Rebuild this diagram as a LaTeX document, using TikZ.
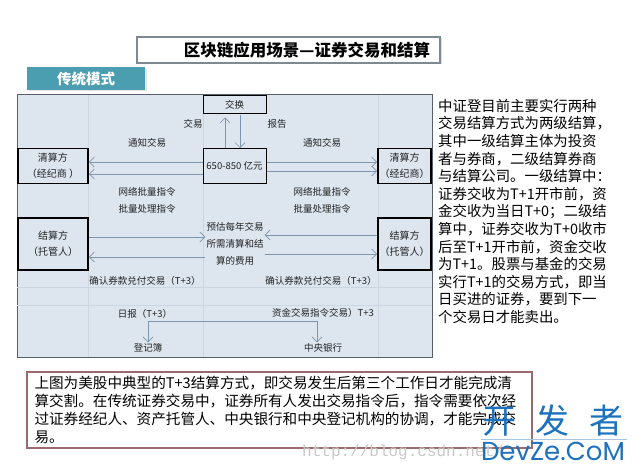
\documentclass[tikz,border=0pt]{standalone}
\usepackage{fontspec}
\setmainfont{Noto Sans CJK SC}
\newfontfamily\urlfont{Liberation Mono}
\newfontfamily\wmfont{Poppins}
\usepackage{tikz}
\usetikzlibrary{arrows.meta,shadows}
\definecolor{panelbg}{HTML}{DDE5EE}
\definecolor{panelline}{HTML}{55606B}
\definecolor{gridc}{HTML}{CCD6E1}
\definecolor{flowc}{HTML}{7E95AF}
\definecolor{tealbg}{HTML}{4A9EB0}
\definecolor{titleline}{HTML}{7E8A92}
\definecolor{noteline}{HTML}{9A6A6E}
\definecolor{labc}{HTML}{222222}
\definecolor{wmblue}{HTML}{1E72BD}
\definecolor{urlgray}{HTML}{C9C9C9}
\tikzset{
  panel/.style={fill=panelbg, draw=panelline, line width=1pt},
  gridl/.style={draw=gridc, line width=0.6pt},
  titlebox/.style={draw=titleline, line width=1.5pt, fill=white, minimum width=303pt, minimum height=26pt, inner sep=0pt,
    font=\fontsize{16.5}{18}\selectfont\bfseries, drop shadow={opacity=0.25, shadow xshift=1.5pt, shadow yshift=-1.5pt}},
  tagbox/.style={fill=tealbg, text=white, minimum width=118pt, minimum height=23pt, inner sep=0pt,
    font=\fontsize{14.5}{16}\selectfont\bfseries, drop shadow={opacity=0.2, shadow xshift=1.5pt, shadow yshift=-1.5pt}},
  hubbox/.style={draw=black, line width=1pt, fill=panelbg, minimum width=63pt, inner sep=0pt, text=labc,
    font=\fontsize{9.5}{12}\selectfont},
  partybox/.style={draw=black, line width=1.6pt, fill=panelbg, inner sep=0pt, align=center, text=labc,
    font=\fontsize{10}{16}\selectfont},
  flow/.style={draw=flowc, line width=0.8pt, -{Straight Barb[length=5pt,width=10pt,line width=0.7pt]}},
  lab/.style={text=labc, font=\fontsize{9.5}{17}\selectfont, inner sep=1pt, align=center},
  para/.style={text=black, inner sep=0pt, align=left},
  notebox/.style={draw=noteline, line width=1.6pt, fill=white, minimum width=505pt, minimum height=76pt,
    text width=490pt, inner xsep=7.5pt, inner ysep=0pt, align=left, font=\fontsize{14.6}{18}\selectfont},
}

\begin{document}
\begin{tikzpicture}[x=1pt,y=-1pt]
  \useasboundingbox (0,0) rectangle (637,473);
  \fill[white] (0,0) rectangle (637,473);

  % heading
  \node[titlebox] (title) at (288.5,50) {\hspace{37pt}区块链应用场景—证券交易和结算};
  \node[tagbox] (tag) at (86,78.5) {传统模式};

  % panel and its faint grid
  \draw[panel] (17,95) rectangle (432,357);
  \draw[gridl] (17,287) -- (432,287);
  \draw[gridl] (17,305) -- (432,305);
  \draw[gridl] (88,95) -- (88,357);
  \draw[gridl] (203,95) -- (203,357);
  \draw[gridl] (378,95) -- (378,357);

  % parties
  \node[hubbox, minimum height=18pt] (swap) at (234.5,105) {交换};
  \node[hubbox, minimum height=35pt] (hub) at (234.5,166) {650-850 亿元};
  \node[partybox, minimum width=70pt, minimum height=35pt] (clrL) at (53,166) {清算方\\（经纪商 ）};
  \node[partybox, minimum width=53pt, minimum height=35pt] (clrR) at (404.5,166) {清算方\\（经纪商）};
  \node[partybox, minimum width=70pt, minimum height=52pt] (cusL) at (53,244) {结算方\\（托管人）};
  \node[partybox, minimum width=53pt, minimum height=52pt] (cusR) at (404.5,244) {结算方\\（托管人）};
  \node[lab] (fee) at (235,244) {预估每年交易\\所需清算和结\\算的费用};
  \node[lab] (ledger) at (148,348) {登记簿};
  \node[lab] (cbank) at (323,348) {中央银行};

  % exchange <-> hub
  \draw[flow] ([xshift=-9.5pt]hub.north) -- ([xshift=-9.5pt,yshift=-3pt]swap.south);
  \draw[flow] ([xshift=5.5pt,yshift=-1pt]swap.south) -- ([xshift=5.5pt]hub.north);
  \node[lab] (lTrade) at (193,124) {交易};
  \node[lab] (lReport) at (277,124) {报告};

  % hub <-> brokers
  \draw[flow] ([yshift=4pt]hub.west) -- ([yshift=4pt]clrL.east);
  \draw[flow] ([yshift=-8pt]hub.west) -- ([yshift=-8pt]clrL.east);
  \draw[flow] ([yshift=4pt]hub.east) -- ([yshift=4pt]clrR.west);
  \draw[flow] ([yshift=-5pt]hub.east) -- ([yshift=-5pt]clrR.west);
  \node[lab] (lNotifyL) at (147,143) {通知交易};
  \node[lab] (lNotifyR) at (322,143) {通知交易};
  \node[lab] (lBatchL) at (147,200) {网络批量指令\\批量处理指令};
  \node[lab] (lBatchR) at (322,200) {网络批量指令\\批量处理指令};

  % custodians <-> fee
  \draw[flow] ([yshift=7pt]cusL.east) -- ([yshift=7pt]fee.west);
  \draw[flow] ([yshift=-13pt]fee.west) -- ([yshift=-13pt]cusL.east);
  \draw[flow] ([yshift=9pt]cusR.west) -- ([yshift=9pt]fee.east);
  \draw[flow] ([yshift=-10pt]fee.east) -- ([yshift=-10pt]cusR.west);
  \node[lab] (lConfL) at (145,281) {确认券款兑付交易（T+3）};
  \node[lab] (lConfR) at (321,281) {确认券款兑付交易（T+3）};

  % daily report and cash orders
  \node[lab] (lDaily) at (145,314) {日报（T+3）};
  \node[lab] (lCash) at (323,313) {资金交易指令交易）T+3};
  \coordinate (fork) at (148,321);
  \coordinate (forkR) at (317,321);
  \draw[flow,-] (fork) -- (forkR);
  \draw[flow] (fork) -- (ledger.north);
  \draw[flow] (forkR) -- (forkR |- cbank.north);

  % side text
  \node[para, anchor=north west, font=\fontsize{14.4}{17.6}\selectfont] (side) at (438,99)
    {中证登目前主要实行两种\\交易结算方式为两级结算，\\其中一级结算主体为投资\\者与券商，二级结算券商\\与结算公司。一级结算中：\\证券交收为T+1开市前，资\\金交收为当日T+0；二级结\\算中，证券交收为T+0收市\\后至T+1开市前，资金交收\\为T+1。股票与基金的交易\\实行T+1的交易方式，即当\\日买进的证券，要到下一\\个交易日才能卖出。};

  % note below
  \node[notebox] (note) at (279.5,410)
    {上图为美股中典型的T+3结算方式，即交易发生后第三个工作日才能完成清\\算交割。在传统证券交易中，证券所有人发出交易指令后，指令需要依次经\\过证券经纪人、资产托管人、中央银行和中央登记机构的协调，才能完成交\\易。};

  % watermarks
  \node[text=urlgray, font=\urlfont\fontsize{16}{16}\selectfont, anchor=west, inner sep=0pt] (url) at (302,452) {http://blog.csdn.net/};
  \node[text=wmblue, font=\fontsize{34}{34}\selectfont, inner sep=0pt] (wmcn) at (553,421) {开\hspace{20pt}发\hspace{20pt}者};
  \draw[wmblue!40, line width=0.8pt] (481,439) -- (627,439);
  \node[text=wmblue, font=\wmfont\fontsize{26}{26}\selectfont, inner sep=0pt] (wmen) at (553,451) {DevZe.CoM};
\end{tikzpicture}
\end{document}
